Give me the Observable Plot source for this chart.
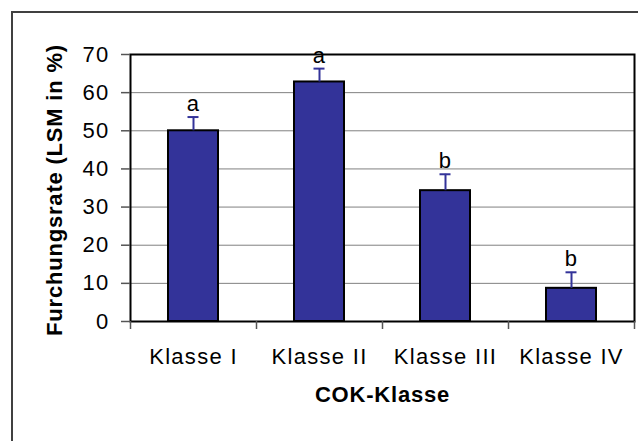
<!DOCTYPE html>
<html>
<head>
<meta charset="utf-8">
<script src="https://cdn.jsdelivr.net/npm/d3@7"></script>
<script src="https://cdn.jsdelivr.net/npm/@observablehq/plot@0.6"></script>
<style>
  html, body { margin: 0; padding: 0; background: #fff; }
  #wrap { position: relative; width: 638px; height: 441px; overflow: hidden; background: #fff; }
  #border { position: absolute; left: 11px; top: 11px; width: 700px; height: 500px; border: 2px solid #404040; box-sizing: border-box; }
  #chart { position: absolute; left: 0; top: 0; }
  #chart svg text { letter-spacing: 1.3px; }
  #chart svg text.bold, #chart svg g.bold text { letter-spacing: 0.8px; }
</style>
</head>
<body>
<div id="wrap"><div id="border"></div><div id="chart"></div></div>
<script>
const categories = ["Klasse I", "Klasse II", "Klasse III", "Klasse IV"];
const lsm = [50.0, 62.8, 34.3, 8.7];
const se = [3.6, 3.5, 4.3, 4.2];
const letters = ["a", "a", "b", "b"];
const yTicks = [0, 10, 20, 30, 40, 50, 60, 70];
const xTitle = "COK-Klasse";
const yTitle = "Furchungsrate (LSM in %)";

const data = categories.map((k, i) => ({k, v: lsm[i], up: lsm[i] + se[i], letter: letters[i]}));
const barColor = "#333399";
const tickColor = "#555555";

const chart = Plot.plot({
  width: 638,
  height: 441,
  marginLeft: 130,
  marginRight: 4,
  marginTop: 54,
  marginBottom: 120,
  style: {fontFamily: "'Liberation Sans', Arial, sans-serif", fontSize: "22px", background: "transparent", color: "black"},
  x: {type: "band", domain: categories, paddingInner: 0.6, paddingOuter: 0.3},
  y: {domain: [0, 70]},
  marks: [
    Plot.gridY(yTicks.filter(t => t > 0 && t < 70), {stroke: "#808080", strokeOpacity: 1, strokeWidth: 1}),
    Plot.barY(data, {x: "k", y: "v", fill: barColor, stroke: "black", strokeWidth: 2}),
    Plot.ruleX(data, {x: "k", y1: "v", y2: "up", stroke: barColor, strokeWidth: 2}),
    Plot.tickY(data, {x: "k", y: "up", stroke: barColor, strokeWidth: 2, insetLeft: 19.5, insetRight: 19.5}),
    Plot.text(data, {x: "k", y: "up", text: "letter", dy: -6, lineAnchor: "bottom", fontSize: 22, fill: "black"}),
    Plot.frame({stroke: "black", strokeWidth: 2}),
    Plot.ruleX(categories, {x: d => d, y1: 0, y2: 0, dx: -63, insetBottom: -8, stroke: tickColor, strokeWidth: 1.5}),
    Plot.ruleX([categories[categories.length - 1]], {x: d => d, y1: 0, y2: 0, dx: 63, insetBottom: -8, stroke: tickColor, strokeWidth: 1.5}),
    Plot.axisY({ticks: yTicks, tickSize: 9, tickPadding: 12, label: null, fontSize: 22, stroke: tickColor, strokeWidth: 1.5}),
    Plot.axisX({tickSize: 0, tickPadding: 27, label: null, fontSize: 22}),
    Plot.text([yTitle], {frameAnchor: "left", textAnchor: "middle", rotate: -90, dx: -76, dy: 2, fontWeight: "bold", fontSize: 22, fill: "black", className: "bold"}),
    Plot.text([xTitle], {frameAnchor: "bottom", dy: 80, fontWeight: "bold", fontSize: 22, fill: "black", className: "bold"})
  ]
});
document.getElementById("chart").appendChild(chart);
</script>
</body>
</html>
